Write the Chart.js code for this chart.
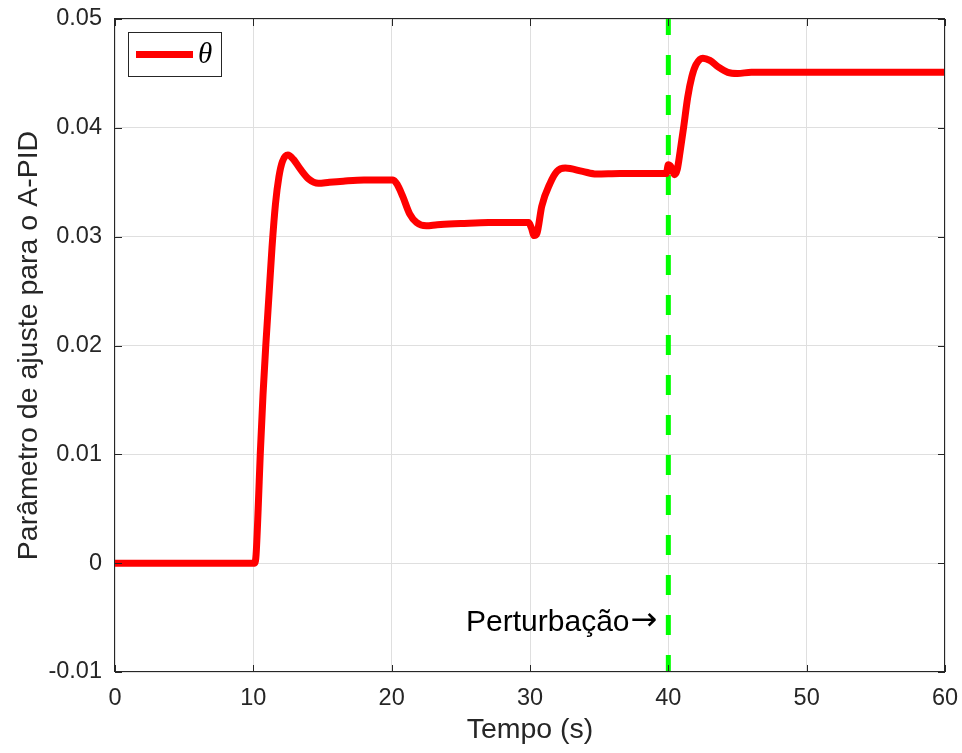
<!DOCTYPE html>
<html>
<head>
<meta charset="utf-8">
<script src="https://cdn.jsdelivr.net/npm/chart.js@4/dist/chart.umd.min.js"></script>
<style>
  html, body { margin: 0; padding: 0; background: #ffffff; }
  canvas { display: block; }
</style>
</head>
<body>
<canvas id="chart" width="962" height="753"></canvas>
<script>
// Adaptive PID tuning parameter over time
const seriesLabel = 'θ';
const timeS = [
  0, 10.1, 10.2, 10.35, 10.5, 10.7, 10.9, 11.15, 11.35, 11.6, 11.85, 12.1, 12.5, 12.9,
  13.4, 14.0, 14.7, 15.5, 16.5, 18, 20.1, 20.4, 20.8, 21.3, 21.8, 22.5, 23.3, 25, 27,
  29.9, 30.1, 30.3, 30.5, 30.85, 31.45, 31.95, 32.55, 33.8, 34.8, 36.5, 39.85, 40.0,
  40.2, 40.45, 40.65, 40.85, 41.1, 41.4, 41.7, 42.0, 42.5, 43.0, 43.6, 44.3, 45, 46, 60
];
const theta = [
  0, 0, 0.0008, 0.005, 0.010, 0.0155, 0.020, 0.025, 0.029, 0.0330, 0.0355, 0.0369, 0.0375, 0.0371,
  0.0362, 0.0353, 0.0349, 0.0350, 0.0351, 0.0352, 0.0352, 0.0348, 0.0337, 0.0321, 0.0313, 0.0310, 0.0311, 0.0312, 0.0313,
  0.0313, 0.0308, 0.0301, 0.0303, 0.0328, 0.0349, 0.0360, 0.0363, 0.0360, 0.03575, 0.0358, 0.0358, 0.0366,
  0.0364, 0.0357, 0.0362, 0.0378, 0.0400, 0.0428, 0.0447, 0.0458, 0.0464, 0.0462, 0.0456, 0.0451, 0.0450, 0.0451, 0.0451
];
const xTickValues = [0, 10, 20, 30, 40, 50, 60];
const xTickLabels = ['0', '10', '20', '30', '40', '50', '60'];
const yTickValues = [-0.01, 0, 0.01, 0.02, 0.03, 0.04, 0.05];
const yTickLabels = ['-0.01', '0', '0.01', '0.02', '0.03', '0.04', '0.05'];
const disturbanceTime = 40;
const disturbanceWord = 'Perturbação';
const disturbanceArrow = '→';
const xTitle = 'Tempo (s)';
const yTitle = 'Parâmetro de ajuste para o A-PID';

const ink = '#262626';
const gridColor = '#dfdfdf';
const sans = "'Liberation Sans', Arial, Helvetica, sans-serif";

const thetaPoints = timeS.map((t, i) => ({ x: t, y: theta[i] }));
const yMin = yTickValues[0];
const yMax = yTickValues[yTickValues.length - 1];
const markerPoints = [{ x: disturbanceTime, y: yMin }, { x: disturbanceTime, y: yMax }];

// Axes box, inward tick marks, legend and the disturbance note
const decor = {
  id: 'decor',
  afterDatasetsDraw(chart) {
    const { ctx, chartArea: a, scales: { x, y } } = chart;
    ctx.save();
    ctx.strokeStyle = ink;
    ctx.lineWidth = 1;
    const tl = 7;
    ctx.beginPath();
    xTickValues.forEach(v => {
      const px = Math.round(x.getPixelForValue(v)) + 0.5;
      ctx.moveTo(px, a.bottom); ctx.lineTo(px, a.bottom - tl);
      ctx.moveTo(px, a.top); ctx.lineTo(px, a.top + tl);
    });
    yTickValues.forEach(v => {
      const py = Math.round(y.getPixelForValue(v)) + 0.5;
      ctx.moveTo(a.left, py); ctx.lineTo(a.left + tl, py);
      ctx.moveTo(a.right, py); ctx.lineTo(a.right - tl, py);
    });
    ctx.stroke();
    ctx.strokeRect(a.left - 0.5, a.top - 0.5, a.right - a.left, a.bottom - a.top);

    // legend
    const lx = a.left + 13, ly = a.top + 13;
    ctx.fillStyle = '#ffffff';
    ctx.fillRect(lx + 0.5, ly + 0.5, 93, 44);
    ctx.strokeRect(lx + 0.5, ly + 0.5, 93, 44);
    ctx.strokeStyle = '#ff0000';
    ctx.lineWidth = 7;
    ctx.beginPath();
    ctx.moveTo(lx + 8, ly + 22.5);
    ctx.lineTo(lx + 65, ly + 22.5);
    ctx.stroke();
    ctx.fillStyle = '#000000';
    ctx.font = "italic 29px 'Liberation Serif', 'Times New Roman', serif";
    ctx.textAlign = 'left';
    ctx.textBaseline = 'alphabetic';
    ctx.fillText(seriesLabel, lx + 70, ly + 31);

    // disturbance note: word followed by a wide arrow pointing at the marker
    const nx = x.getPixelForValue(disturbanceTime) - 11;
    const ny = y.getPixelForValue(-0.0062);
    ctx.textAlign = 'right';
    ctx.fillStyle = '#000000';
    ctx.font = "32px 'DejaVu Sans', sans-serif";
    const arrowW = ctx.measureText(disturbanceArrow).width;
    ctx.fillText(disturbanceArrow, nx, ny - 1);
    ctx.font = '30px ' + sans;
    ctx.fillText(disturbanceWord, nx - arrowW - 1, ny);
    ctx.restore();
  }
};

new Chart(document.getElementById('chart'), {
  type: 'line',
  data: {
    datasets: [
      {
        label: seriesLabel,
        data: thetaPoints,
        borderColor: '#ff0000',
        borderWidth: 7,
        pointRadius: 0,
        cubicInterpolationMode: 'monotone',
        borderJoinStyle: 'round',
        borderCapStyle: 'butt',
        clip: 0,
        order: 0
      },
      {
        label: 'marker',
        data: markerPoints,
        borderColor: '#00ff00',
        borderWidth: 5,
        borderDash: [20, 20],
        borderDashOffset: 3,
        pointRadius: 0,
        clip: 0,
        order: 1
      }
    ]
  },
  options: {
    responsive: false,
    animation: false,
    devicePixelRatio: 1,
    layout: { padding: { top: 19, right: 17, left: 0, bottom: 0 } },
    plugins: { legend: { display: false }, tooltip: { enabled: false } },
    scales: {
      x: {
        type: 'linear',
        min: 0, max: 60,
        afterBuildTicks: s => { s.ticks = xTickValues.map(v => ({ value: v })); },
        afterFit: s => { s.height = 81; s.paddingLeft = 0; s.paddingRight = 0; },
        ticks: {
          callback: (v, i) => xTickLabels[i],
          color: ink,
          font: { family: sans, size: 23.5 },
          padding: 12,
          maxRotation: 0
        },
        grid: { color: gridColor, lineWidth: 1, drawTicks: false },
        border: { display: false },
        title: {
          display: true, text: xTitle, color: ink,
          font: { family: sans, size: 28.5 },
          padding: { top: 0, bottom: 6 }
        }
      },
      y: {
        type: 'linear',
        min: yMin, max: yMax,
        afterBuildTicks: s => { s.ticks = yTickValues.map(v => ({ value: v })); },
        afterFit: s => { s.width = 115; s.paddingTop = 0; s.paddingBottom = 0; },
        ticks: {
          callback: (v, i) => yTickLabels[i],
          color: ink,
          font: { family: sans, size: 23.5 },
          padding: 13
        },
        grid: { color: gridColor, lineWidth: 1, drawTicks: false },
        border: { display: false },
        title: {
          display: true, text: yTitle, color: ink,
          font: { family: sans, size: 28.5 },
          padding: { top: 12, bottom: 0 }
        }
      }
    }
  },
  plugins: [decor]
});
</script>
</body>
</html>
